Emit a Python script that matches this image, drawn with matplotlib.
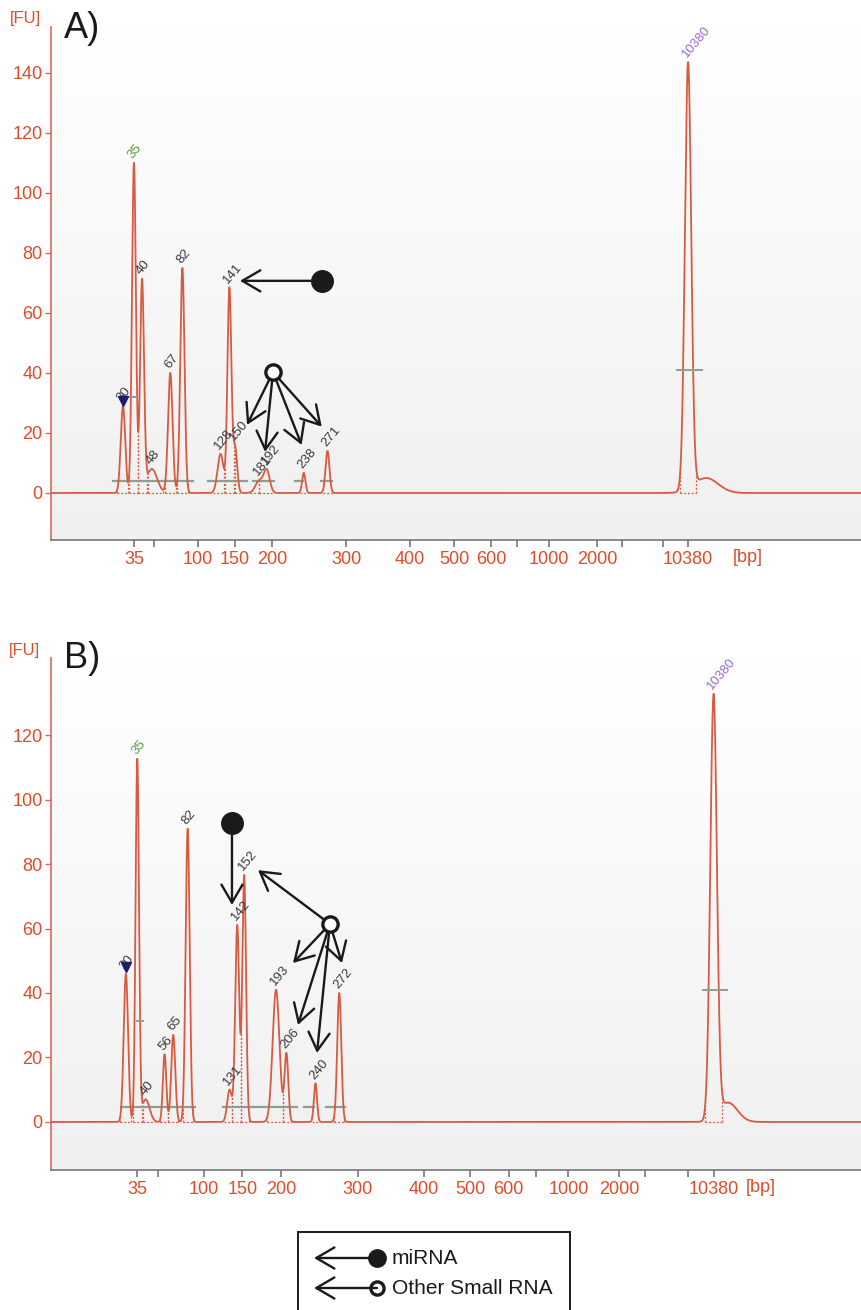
import numpy as np
import matplotlib
matplotlib.use("Agg")
import matplotlib.pyplot as plt
from matplotlib.patches import Rectangle
from matplotlib.colors import LinearSegmentedColormap

plt.rcParams['font.family'] = ['Liberation Sans', 'DejaVu Sans']

# Sizing ladder: fragment size (bp) against migration time (s)
ladder_bp = [25, 30, 35, 40, 50, 60, 80, 100, 150, 200, 300, 400, 500, 600,
             800, 1000, 2000, 4000, 7000, 10380]
ladder_s = [24.07, 24.80, 25.53, 26.07, 26.87, 27.53, 28.63, 29.80, 32.27, 34.73,
            39.67, 43.90, 46.87, 49.33, 51.07, 53.17, 56.40, 58.07, 60.80, 62.47]

tick_bp = [35, 50, 100, 150, 200, 300, 400, 500, 600, 800, 1000, 2000, 4000, 7000, 10380]
tick_labels = ["35", "", "100", "150", "200", "300", "400", "500", "600", "",
               "1000", "2000", "", "", "10380"]

# Panel A peaks: called size (bp), height (FU), width (s)
a_size = [30, 35, 40, 48, 67, 82, 128, 141, 150, 181, 192, 238, 271, 10380]
a_fu = [29, 110, 70, 8, 40, 75, 13, 68, 15, 4, 7.5, 6.7, 14, 142]
a_sigma = [0.15, 0.13, 0.13, 0.35, 0.15, 0.14, 0.20, 0.13, 0.14, 0.25, 0.20, 0.11, 0.13, 0.21]
a_shoulder_s, a_shoulder_fu, a_shoulder_sigma = [63.67], [5.0], [0.8]

# Panel B peaks
b_size = [30, 35, 40, 56, 65, 82, 131, 142, 152, 193, 206, 240, 272, 10380]
b_fu = [46, 112, 7, 21, 27, 91, 10, 61, 76.5, 41, 21, 12, 40, 131]
b_sigma = [0.14, 0.11, 0.25, 0.11, 0.13, 0.13, 0.15, 0.13, 0.12, 0.22, 0.12, 0.10, 0.13, 0.21]
b_shoulder_s, b_shoulder_fu, b_shoulder_sigma = [63.4], [6.0], [0.6]

TRACE = '#d85a40'
AXRED = '#e04b2b'
SPINE_RED = '#d96a5a'
GRAY_AX = '#777777'
REGION = '#8e9e90'


def bp_to_s(bp):
    return np.interp(np.log(np.asarray(bp, float)), np.log(ladder_bp), ladder_s)


def trace(t, centers, fu, sigma):
    y = np.zeros_like(t)
    for c, h, s in zip(centers, fu, sigma):
        y += h * np.exp(-0.5 * ((t - c) / s) ** 2)
    return y


def integration_marks(ax, t, y, centers, sigmas):
    order = np.argsort(centers)
    c = np.asarray(centers)[order]
    s = np.asarray(sigmas)[order]
    for i in range(len(c)):
        lo, hi = c[i] - 2.5 * s[i], c[i] + 2.5 * s[i]
        if i > 0:
            m = (t > c[i - 1]) & (t < c[i])
            if m.any():
                lo = max(lo, t[m][np.argmin(y[m])])
        if i < len(c) - 1:
            m = (t > c[i]) & (t < c[i + 1])
            if m.any():
                hi = min(hi, t[m][np.argmin(y[m])])
        ax.plot([lo, hi], [0, 0], ls=(0, (1.5, 1.5)), color=TRACE, lw=0.9, zorder=2)
        for b in (lo, hi):
            yb = np.interp(b, t, y)
            if yb > 0.8:
                ax.plot([b, b], [0, yb], ls=(0, (1.5, 1.5)), color=TRACE, lw=0.9, zorder=2)


grad_cmap = LinearSegmentedColormap.from_list('bg', ['#f0f0f0', '#ffffff'])


def draw_panel(ax, sizes, fu, sigma, sh_s, sh_fu, sh_sig, xmax, ylim, yticks,
               regions, region_fu, marker_bars, tri_off):
    ax.imshow(np.linspace(0, 1, 256).reshape(-1, 1), cmap=grad_cmap, origin='lower',
              extent=[0, 1, 0, 1], transform=ax.transAxes, aspect='auto', zorder=0)
    centers = bp_to_s(sizes)
    t = np.linspace(20, xmax, 8000)
    y = trace(t, list(centers) + sh_s, list(fu) + sh_fu, list(sigma) + sh_sig)
    integration_marks(ax, t, y, centers, sigma)
    for lo, hi in regions:
        ax.plot([lo, hi], [region_fu, region_fu], color=REGION, lw=1.6, zorder=2.5)
    for lo, hi, lev in marker_bars:
        ax.plot([lo, hi], [lev, lev], color=REGION, lw=1.4, zorder=3.5)
    ax.plot(t, y, color=TRACE, lw=1.3, zorder=3)

    for size, c in zip(sizes, centers):
        top = np.interp(c, t, y)
        col = '#3a3a3a'
        if size == 35:
            col = '#5a9a3a'
        elif size == 10380:
            col = '#9b6cc8'
        ax.annotate(str(size), xy=(c, top), xytext=(-2.5, 4), textcoords='offset points',
                    rotation=50, rotation_mode='anchor', ha='left', va='center',
                    fontsize=9.5, color=col, zorder=5)
    c30 = centers[0]
    ax.plot([c30], [np.interp(c30, t, y) + tri_off], marker='v', color='#1c1c6e',
            ms=7.5, zorder=6)

    ax.set_xlim(20, xmax)
    ax.set_ylim(*ylim)
    ax.set_xticks(bp_to_s(tick_bp))
    ax.set_xticklabels(tick_labels)
    ax.set_yticks(yticks)
    for side in ('top', 'right'):
        ax.spines[side].set_visible(False)
    ax.spines['left'].set_color(SPINE_RED)
    ax.spines['left'].set_linewidth(1.2)
    ax.spines['bottom'].set_color(GRAY_AX)
    ax.spines['bottom'].set_linewidth(1.2)
    ax.tick_params(axis='y', colors=SPINE_RED, labelcolor=AXRED, labelsize=13,
                   length=4, width=1, pad=2)
    ax.tick_params(axis='x', colors=GRAY_AX, labelcolor=AXRED, labelsize=13,
                   length=5, width=1.2, pad=3)


def point_arrows(ax, origin, tips, filled):
    for tip in tips:
        ax.annotate('', xy=tip, xytext=origin,
                    arrowprops=dict(arrowstyle='->,head_length=0.65,head_width=0.38',
                                    lw=1.7, color='#1a1a1a', mutation_scale=20,
                                    shrinkA=0, shrinkB=0), zorder=7)
    if filled:
        ax.plot(*origin, marker='o', ms=15.5, color='#1a1a1a', zorder=8)
    else:
        ax.plot(*origin, marker='o', ms=11, mfc='white', mec='#1a1a1a', mew=2.4, zorder=8)


fig = plt.figure(figsize=(8.61, 13.10), dpi=100)
fig.patch.set_facecolor('white')

axA = fig.add_axes([51 / 861, 1 - 540 / 1310, 810 / 861, 513 / 1310])
draw_panel(axA, a_size, a_fu, a_sigma, a_shoulder_s, a_shoulder_fu, a_shoulder_sigma,
           74.0, (-15.67, 155.3), np.arange(0, 141, 20),
           [(24.13, 29.47), (30.47, 33.07), (33.47, 34.87), (36.27, 36.8), (38.0, 38.73)], 4.0,
           [(25.27, 25.73, 32), (61.73, 63.4, 41)], 1.5)
point_arrows(axA, (38.07, 70.7), [(32.6, 70.7)], True)
point_arrows(axA, (34.8, 40.3), [(33.07, 22.7), (34.27, 13.7), (36.71, 16.0), (38.05, 22.1)], False)

axB = fig.add_axes([51 / 861, 1 - 1170 / 1310, 810 / 861, 512 / 1310])
draw_panel(axB, b_size, b_fu, b_sigma, b_shoulder_s, b_shoulder_fu, b_shoulder_sigma,
           71.92, (-14.9, 143.9), np.arange(0, 121, 20),
           [(24.51, 29.25), (31.0, 35.74), (36.2, 36.86), (37.6, 38.83)], 4.7,
           [(25.5, 25.9, 31.3), (61.8, 63.33, 41)], 2.0)
point_arrows(axB, (31.6, 92.7), [(31.6, 67.3)], True)
point_arrows(axB, (37.88, 61.4), [(33.27, 78.1), (35.51, 49.3), (35.83, 30.1),
                                  (37.05, 21.4), (38.65, 49.3)], False)

# Overlay in figure pixel units for panel titles, units and the key
ov = fig.add_axes([0, 0, 1, 1], zorder=10)
ov.set_xlim(0, 861)
ov.set_ylim(1310, 0)
ov.axis('off')
ov.patch.set_alpha(0)

for label, ytop in (('A)', 0), ('B)', 630)):
    ov.text(64, ytop + 38, label, fontsize=26, color='#1a1a1a', va='baseline', ha='left')
ov.text(25, 18, '[FU]', fontsize=12, color=AXRED, ha='center', va='center')
ov.text(24, 650, '[FU]', fontsize=12, color=AXRED, ha='center', va='center')
ov.text(748, 557, '[bp]', fontsize=13, color=AXRED, ha='center', va='center')
ov.text(761, 1187, '[bp]', fontsize=13, color=AXRED, ha='center', va='center')

ov.add_patch(Rectangle((298, 1232), 272, 120, facecolor='white', edgecolor='#1a1a1a', lw=1.4))
key_rows = [(1258, 'miRNA', True), (1288, 'Other Small RNA', False)]
for yk, text, filled in key_rows:
    ov.annotate('', xy=(314, yk), xytext=(377, yk),
                arrowprops=dict(arrowstyle='->,head_length=0.65,head_width=0.38', lw=1.7,
                                color='#1a1a1a', mutation_scale=20, shrinkA=0, shrinkB=0))
    if filled:
        ov.plot(377, yk, marker='o', ms=12.5, color='#1a1a1a')
    else:
        ov.plot(377, yk, marker='o', ms=9.5, mfc='white', mec='#1a1a1a', mew=2.4)
    ov.text(392, yk, text, fontsize=15, color='#1a1a1a', va='center', ha='left')

fig.savefig('out.png', dpi=100, facecolor='white')
